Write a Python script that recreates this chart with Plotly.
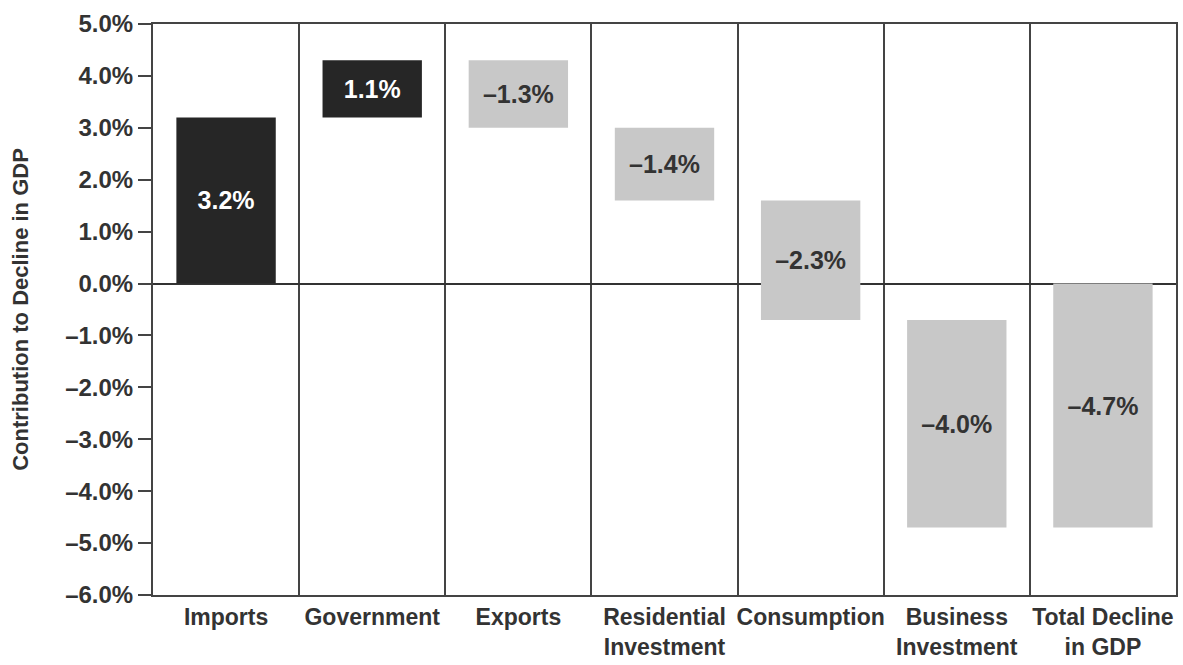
import numpy as np
import plotly.graph_objects as go

categories = ["Imports", "Government", "Exports", "Residential<br>Investment",
              "Consumption", "Business<br>Investment", "Total Decline<br>in GDP"]
changes = [3.2, 1.1, -1.3, -1.4, -2.3, -4.0]   # contributions
total = -4.7                                   # total decline
y_ticks = [5, 4, 3, 2, 1, 0, -1, -2, -3, -4, -5, -6]

def fmt(v):
    s = f"{abs(v):.1f}%"
    return s if v >= 0 else "\u2013" + s

vals = changes + [total]
cum = np.cumsum(changes)
bases = list(cum - np.array(changes)) + [0.0]
colors = ["#262626" if v > 0 else "#c8c8c8" for v in changes] + ["#c8c8c8"]
txtcol = ["#ffffff" if v > 0 else "#333333" for v in changes] + ["#333333"]
xpos = list(range(len(categories)))

FONT = "Liberation Sans, Arial, sans-serif"

fig = go.Figure(go.Bar(
    x=xpos, y=vals, base=bases, width=0.68,
    marker=dict(color=colors, line=dict(width=0)),
    text=[fmt(v) for v in vals],
    textposition="inside", insidetextanchor="middle", textangle=0,
    constraintext="none",
    textfont=dict(family=FONT, size=25, color=txtcol, weight="bold"),
    cliponaxis=False,
))

fig.update_layout(
    width=1183, height=665,
    margin=dict(l=153, r=5, t=24, b=67),
    paper_bgcolor="white", plot_bgcolor="white",
    showlegend=False,
    font=dict(family=FONT, color="#333333"),
)
fig.update_xaxes(
    range=[-0.5, len(categories) - 0.5],
    tickmode="array", tickvals=xpos, ticktext=categories,
    tickfont=dict(family=FONT, size=23, color="#333333", weight="bold"),
    showgrid=False, showline=True, linecolor="#444444", linewidth=2, mirror=True,
    ticks="", zeroline=False,
    minor=dict(tick0=0.5, dtick=1, showgrid=True, gridcolor="#444444",
               gridwidth=2, ticks=""),
)
fig.update_yaxes(
    range=[-6, 5],
    tickmode="array", tickvals=y_ticks, ticktext=[fmt(v) for v in y_ticks],
    tickfont=dict(family=FONT, size=24, color="#333333", weight="bold"),
    ticks="outside", ticklen=13, tickwidth=2, tickcolor="#444444",
    showgrid=False, showline=True, linecolor="#444444", linewidth=2, mirror=True,
    zeroline=True, zerolinecolor="#333333", zerolinewidth=2,
    title=dict(text="Contribution to Decline in GDP", standoff=30,
               font=dict(family=FONT, size=22, color="#333333", weight="bold")),
)

fig.write_html("out.html")
